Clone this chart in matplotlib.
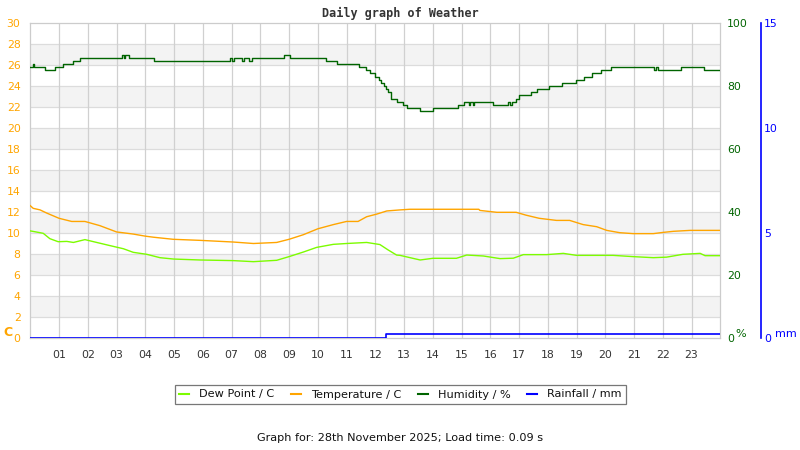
import matplotlib
matplotlib.use("Agg")
import matplotlib.pyplot as plt
from matplotlib.lines import Line2D

# readings (hour of day, value)
temp_hours = [0.0, 0.1, 0.34, 0.57, 1.0, 1.44, 1.9, 2.42, 3.0, 3.58, 4.0, 4.28, 4.97, 5.9,
              7.06, 7.76, 8.57, 9.0, 9.5, 10.0, 10.54, 11.0, 11.4, 11.7, 12.05, 12.4, 12.86,
              13.2, 15.6, 15.64, 16.23, 16.9, 17.24, 17.7, 18.3, 18.76, 19.23, 19.7, 20.05,
              20.5, 20.97, 21.67, 22.02, 22.37, 22.95, 24.0]
temp_vals = [12.6, 12.35, 12.2, 11.9, 11.4, 11.1, 11.1, 10.7, 10.1, 9.9, 9.7, 9.6, 9.4, 9.3,
             9.14, 9.0, 9.1, 9.4, 9.84, 10.4, 10.8, 11.1, 11.1, 11.55, 11.8, 12.1, 12.2,
             12.26, 12.26, 12.15, 11.97, 11.97, 11.7, 11.4, 11.2, 11.2, 10.8, 10.6, 10.25,
             10.03, 9.94, 9.94, 10.06, 10.16, 10.25, 10.25]

dew_hours = [0.0, 0.2, 0.45, 0.68, 0.97, 1.27, 1.5, 1.9, 2.31, 2.77, 3.24, 3.58, 4.05, 4.51,
             4.98, 5.9, 7.06, 7.76, 8.57, 9.0, 9.5, 9.96, 10.54, 11.0, 11.7, 12.16, 12.45,
             12.74, 12.86, 13.56, 14.0, 14.82, 15.18, 15.76, 16.34, 16.8, 17.15, 17.96,
             18.54, 19.0, 20.27, 20.97, 21.67, 22.13, 22.7, 23.3, 23.47, 24.0]
dew_vals = [10.2, 10.1, 9.97, 9.46, 9.17, 9.2, 9.1, 9.37, 9.1, 8.8, 8.5, 8.16, 7.97, 7.65,
            7.52, 7.43, 7.37, 7.27, 7.4, 7.75, 8.19, 8.63, 8.92, 9.0, 9.1, 8.9, 8.38,
            7.9, 7.87, 7.43, 7.59, 7.59, 7.9, 7.81, 7.56, 7.6, 7.94, 7.94,
            8.06, 7.87, 7.87, 7.75, 7.65, 7.7, 7.97, 8.06, 7.84, 7.84]

hum_hours = [0.0, 0.09, 0.12, 0.51, 0.86, 1.15, 1.5, 1.74, 3.18, 3.27, 3.3, 3.44, 4.3,
             6.95, 7.02, 7.1, 7.35, 7.45, 7.6, 7.72, 8.83, 9.03, 10.28, 10.68, 11.44,
             11.66, 11.8, 12.0, 12.13, 12.2, 12.3, 12.38, 12.45, 12.53, 12.74, 12.95,
             13.11, 13.55, 14.0, 14.88, 15.1, 15.25, 15.3, 15.4, 15.45, 16.1, 16.6, 16.7,
             16.75, 16.9, 17.0, 17.4, 17.63, 18.04, 18.5, 18.98, 19.26, 19.54, 19.85,
             20.2, 21.7, 21.75, 21.84, 22.65, 23.43, 24.0]
hum_vals = [86, 87, 86, 85, 86, 87, 88, 89, 90, 89, 90, 89, 88,
            89, 88, 89, 88, 89, 88, 89, 90, 89, 88, 87, 86,
            85, 84, 83, 82, 81, 80, 79, 78, 76, 75, 74,
            73, 72, 73, 74, 75, 74, 75, 74, 75, 74, 75, 74,
            75, 76, 77, 78, 79, 80, 81, 82, 83, 84, 85,
            86, 85, 86, 85, 86, 85, 85]

rain_hours = [0.0, 12.36, 24.0]
rain_vals = [0.0, 0.2, 0.2]

hour_labels = ["%02d" % h for h in range(1, 24)]

temp_col = "#ffa500"
dew_col = "#7cfc00"
hum_col = "#006400"
rain_col = "#0000ff"

fig = plt.figure(figsize=(8, 4.5), dpi=100)
ax = fig.add_axes([30.3 / 800, 1 - 338 / 450, 690 / 800, 315 / 450])

# background bands and grid
for lo in range(2, 30, 4):
    ax.axhspan(lo, lo + 2, color="#f3f3f3", zorder=0, lw=0)
for y in range(2, 30, 2):
    ax.axhline(y, color="#dcdcdc", lw=0.9, zorder=1)
for h in range(1, 24):
    ax.axvline(h, color="#d0d0d0", lw=0.9, zorder=1)

ax.set_xlim(0, 24)
ax.set_ylim(0, 30)
ax.set_yticks(range(0, 31, 2))
ax.set_xticks(range(1, 24))
ax.set_xticklabels(hour_labels)
ax.tick_params(axis="y", colors=temp_col, labelsize=7.8, length=0, pad=7)
ax.tick_params(axis="x", colors="#333333", labelsize=7.8, length=0, pad=9)
for s in ax.spines.values():
    s.set_color("#cccccc")
    s.set_linewidth(0.9)

ax.plot(temp_hours, temp_vals, color=temp_col, lw=1.0, zorder=4)
ax.plot(dew_hours, dew_vals, color=dew_col, lw=1.0, zorder=4)

ax2 = ax.twinx()
ax2.set_ylim(0, 100)
ax2.set_yticks(range(0, 101, 20))
ax2.tick_params(axis="y", colors=hum_col, labelsize=7.8, length=0, pad=5)
for s in ax2.spines.values():
    s.set_visible(False)
ax2.plot(hum_hours, hum_vals, color=hum_col, lw=1.0, drawstyle="steps-post", zorder=4)

ax3 = ax.twinx()
ax3.set_ylim(0, 15)
ax3.set_yticks([0, 5, 10, 15])
ax3.spines["right"].set_position(("axes", (760.5 - 30.3) / 690))
for k in ["top", "bottom", "left"]:
    ax3.spines[k].set_visible(False)
ax3.spines["right"].set_color(rain_col)
ax3.spines["right"].set_linewidth(1.2)
ax3.tick_params(axis="y", colors=rain_col, labelsize=7.8, length=0, pad=2.5)
ax3.plot(rain_hours, rain_vals, color=rain_col, lw=1.2, drawstyle="steps-post", zorder=5)

# unit labels
fig.text(3 / 800, 1 - 333 / 450, "C", color=temp_col, fontsize=9, fontweight="bold",
         va="center", ha="left")
fig.text(735 / 800, 1 - 334 / 450, "%", color=hum_col, fontsize=8, va="center", ha="left")
fig.text(775 / 800, 1 - 334 / 450, "mm", color=rain_col, fontsize=8, va="center", ha="left")

fig.text(0.5, 1 - 13 / 450, "Daily graph of Weather", family="DejaVu Sans Mono",
         fontweight="bold", fontsize=8.5, color="#333333", ha="center", va="center")

handles = [Line2D([], [], color=dew_col, lw=1.5),
           Line2D([], [], color=temp_col, lw=1.5),
           Line2D([], [], color=hum_col, lw=1.5),
           Line2D([], [], color=rain_col, lw=1.5)]
leg = fig.legend(handles, ["Dew Point / C", "Temperature / C", "Humidity / %", "Rainfall / mm"],
                 ncol=4, loc="center", bbox_to_anchor=(400.5 / 800, 1 - 394.5 / 450),
                 fontsize=8.1, handlelength=0.9, handletextpad=0.9, columnspacing=1.45,
                 fancybox=False, borderpad=0.4, borderaxespad=0, framealpha=1)
leg.get_frame().set_edgecolor("#777777")
leg.get_frame().set_linewidth(0.9)
for t in leg.get_texts():
    t.set_color("#111111")

fig.text(0.5, 1 - 438 / 450, "Graph for: 28th November 2025; Load time: 0.09 s",
         fontsize=8.1, color="#111111", ha="center", va="center")

fig.savefig("out.png", dpi=100)
